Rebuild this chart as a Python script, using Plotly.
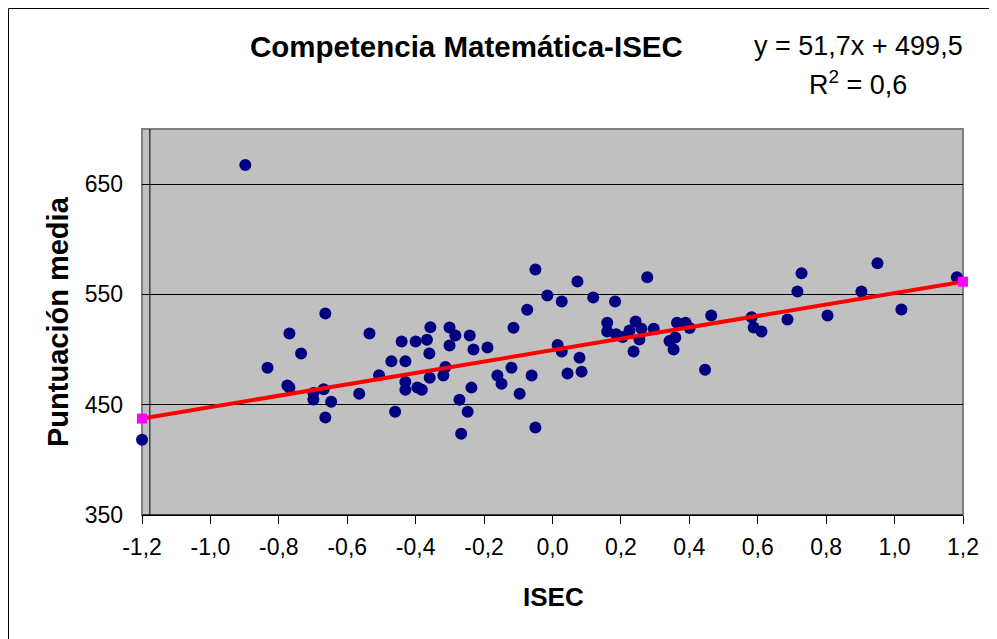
import plotly.graph_objects as go

# ---- data ----
isec = [-1.20, -0.898, -0.833, -0.769, -0.735, -0.775, -0.769, -0.699, -0.699, -0.669,
        -0.664, -0.647, -0.664, -0.565, -0.535, -0.507, -0.471, -0.460, -0.441, -0.430,
        -0.430, -0.430, -0.400, -0.395, -0.382, -0.367, -0.357, -0.360, -0.359, -0.301,
        -0.284, -0.301, -0.242, -0.231, -0.190, -0.313, -0.319, -0.272, -0.237, -0.248,
        -0.267, -0.161, -0.149, -0.120, -0.096, -0.114, -0.074, -0.061, -0.050, -0.015,
        0.027, 0.015, 0.027, -0.050, 0.044, 0.073, 0.079, 0.085, 0.119, 0.183,
        0.277, 0.160, 0.160, 0.186, 0.205, 0.225, 0.243, 0.260, 0.254, 0.237,
        0.296, 0.342, 0.359, 0.354, 0.364, 0.389, 0.401, 0.464, 0.446, 0.582,
        0.588, 0.611, 0.687, 0.716, 0.728, 0.804, 0.903, 0.950, 1.020, 1.182]
puntuacion = [418.2, 667.3, 483.6, 514.5, 496.5, 467.5, 465.7, 460.6, 454.8, 464.1,
              532.7, 452.7, 438.5, 460.0, 514.5, 476.8, 489.4, 443.6, 507.3, 489.4,
              470.7, 463.6, 507.3, 465.7, 463.6, 508.9, 520.3, 496.4, 474.5, 520.0,
              512.7, 503.6, 512.7, 500.0, 501.8, 484.3, 476.4, 454.5, 465.5, 443.6,
              423.6, 476.4, 469.1, 483.6, 460.0, 519.7, 536.2, 476.4, 572.7, 549.1,
              543.6, 504.1, 498.2, 429.3, 478.2, 561.8, 492.5, 480.0, 547.3, 543.6,
              565.5, 524.3, 516.4, 513.9, 511.5, 517.3, 525.5, 518.8, 509.1, 498.2,
              518.8, 507.7, 510.9, 500.0, 524.3, 524.3, 519.5, 530.9, 481.8, 529.4,
              520.0, 516.4, 527.3, 552.7, 569.1, 530.9, 552.7, 578.2, 536.4, 565.5]

slope = 51.7
intercept = 499.5
r2_text = "0,6"
trend_x = [-1.20, 1.20]

x_tick_vals = [-1.2, -1.0, -0.8, -0.6, -0.4, -0.2, 0.0, 0.2, 0.4, 0.6, 0.8, 1.0, 1.2]
x_tick_labels = ["-1,2", "-1,0", "-0,8", "-0,6", "-0,4", "-0,2", "0,0",
                 "0,2", "0,4", "0,6", "0,8", "1,0", "1,2"]
y_tick_vals = [350, 450, 550, 650]
y_tick_labels = ["350", "450", "550", "650"]

title_text = "Competencia Matemática-ISEC"
x_title = "ISEC"
y_title = "Puntuación media"

FONT = "Liberation Sans, Arial, sans-serif"

trend_y = [slope * v + intercept for v in trend_x]

fig = go.Figure()
fig.add_trace(go.Scatter(
    x=isec, y=puntuacion, mode="markers",
    marker=dict(color="#000080", size=12, line=dict(width=0)),
    cliponaxis=False, showlegend=False, hoverinfo="skip"))
fig.add_trace(go.Scatter(
    x=trend_x, y=trend_y, mode="lines+markers",
    line=dict(color="#FF0000", width=4),
    marker=dict(color="#FF00FF", size=10, symbol="square"),
    cliponaxis=False, showlegend=False, hoverinfo="skip"))

# page has an 8px body margin: figure is placed at (8, 8)
OFF = 8
L, R, T, B = 142 - OFF, 34, 129 - OFF, 124
W, H = 997 - OFF, 639 - OFF
pw, ph = W - L - R, H - T - B


def px_x(p):
    return (p - OFF - L) / pw


def px_y(p):
    return (H - B - (p - OFF)) / ph


fig.update_layout(
    width=W, height=H,
    margin=dict(l=L, r=R, t=T, b=B, pad=0),
    paper_bgcolor="white", plot_bgcolor="#C0C0C0",
    font=dict(family=FONT, color="black"),
    separators=",.",
    showlegend=False,
    xaxis=dict(range=[-1.2, 1.2], tickvals=x_tick_vals, ticktext=x_tick_labels,
               ticks="outside", ticklen=8, tickcolor="black", tickwidth=1,
               tickfont=dict(size=23, family=FONT, color="black"),
               ticklabelstandoff=3,
               showgrid=False, zeroline=False,
               showline=True, linecolor="black", linewidth=1, mirror=False),
    yaxis=dict(range=[350, 700], tickvals=y_tick_vals, ticktext=y_tick_labels,
               ticks="", tickfont=dict(size=23, family=FONT, color="black"),
               ticklabelstandoff=18,
               showgrid=True, gridcolor="black", gridwidth=1,
               zeroline=False, showline=False),
    shapes=[
        dict(type="rect", xref="paper", yref="paper", x0=0, x1=1, y0=0, y1=1,
             line=dict(color="#808080", width=2), layer="below"),
        dict(type="line", xref="x", yref="paper", x0=-1.177, x1=-1.177, y0=0, y1=1,
             line=dict(color="black", width=1), layer="below"),
        dict(type="line", xref="paper", yref="paper", x0=0, x1=1, y0=0, y1=0,
             line=dict(color="black", width=1), layer="above"),
        dict(type="rect", xref="paper", yref="paper",
             x0=px_x(8.5), x1=px_x(1010), y0=px_y(660), y1=px_y(8.5),
             line=dict(color="black", width=1)),
    ],
    annotations=[
        dict(text="<b>" + title_text + "</b>", xref="paper", yref="paper",
             x=px_x(466), y=px_y(47), xanchor="center", yanchor="middle",
             showarrow=False, font=dict(size=29.5, family=FONT, color="black")),
        dict(text=f"y = {str(slope).replace('.', ',')}x + {str(intercept).replace('.', ',')}",
             xref="paper", yref="paper", x=px_x(858), y=px_y(46),
             xanchor="center", yanchor="middle", showarrow=False,
             font=dict(size=27, family=FONT, color="black")),
        dict(text="R<sup>2</sup> = " + r2_text, xref="paper", yref="paper",
             x=px_x(858), y=px_y(83), xanchor="center", yanchor="middle",
             showarrow=False, font=dict(size=27, family=FONT, color="black")),
        dict(text="<b>" + y_title + "</b>", xref="paper", yref="paper",
             x=px_x(58), y=px_y(322), xanchor="center", yanchor="middle",
             textangle=-90, showarrow=False,
             font=dict(size=29, family=FONT, color="black")),
        dict(text="<b>" + x_title + "</b>", xref="paper", yref="paper",
             x=px_x(553), y=px_y(597), xanchor="center", yanchor="middle",
             showarrow=False, font=dict(size=26, family=FONT, color="black")),
    ],
)

fig.write_html("out.html")
